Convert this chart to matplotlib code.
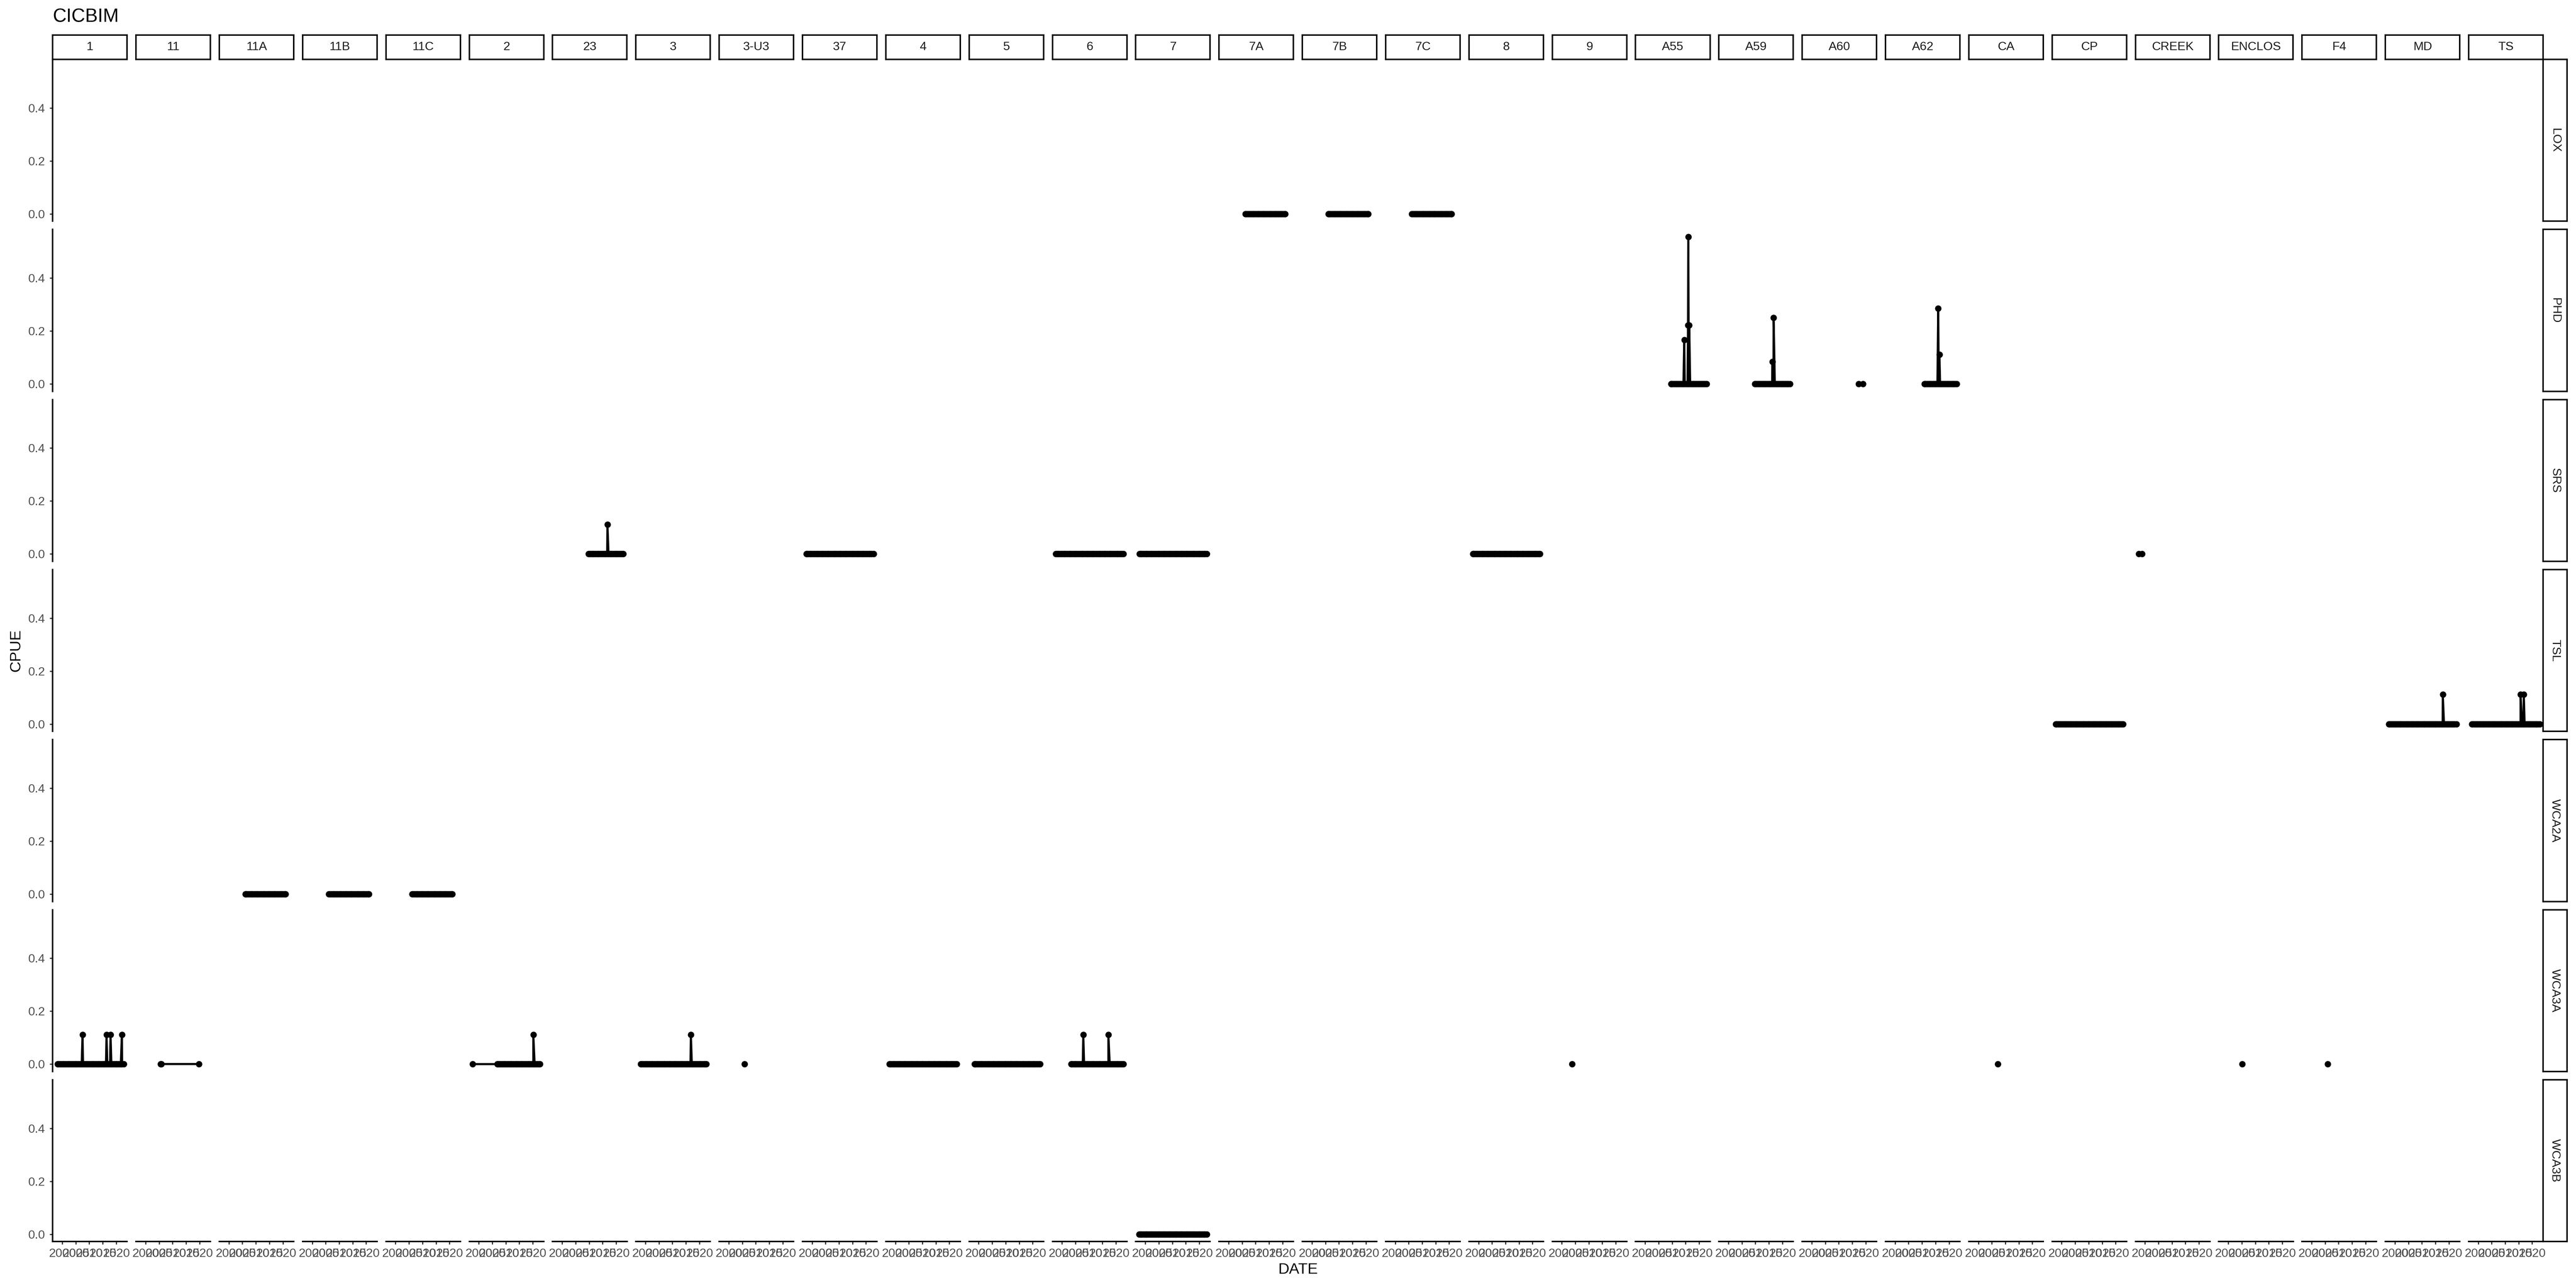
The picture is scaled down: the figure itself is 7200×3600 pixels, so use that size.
import matplotlib
matplotlib.use("Agg")
import matplotlib.pyplot as plt
import pandas as pd

plt.rcParams["font.family"] = ["Liberation Sans", "DejaVu Sans"]

# facet levels
SITES = ["1", "11", "11A", "11B", "11C", "2", "23", "3", "3-U3", "37", "4", "5",
         "6", "7", "7A", "7B", "7C", "8", "9", "A55", "A59", "A60", "A62", "CA",
         "CP", "CREEK", "ENCLOS", "F4", "MD", "TS"]
REGIONS = ["LOX", "PHD", "SRS", "TSL", "WCA2A", "WCA3A", "WCA3B"]

# sampling dates (decimal years) used between the first and last visit of a run
SURVEY_DATES = [1997.7, 1998.2, 1998.7, 1999.2, 1999.7, 2000.2, 2000.7, 2001.2,
                2001.7, 2002.2, 2002.7, 2003.2, 2003.7, 2004.2, 2004.7, 2005.2,
                2005.7, 2006.2, 2006.7, 2007.2, 2007.7, 2008.2, 2008.7, 2009.2,
                2009.7, 2010.2, 2010.7, 2011.2, 2011.7, 2012.2, 2012.7, 2013.2,
                2013.7, 2014.2, 2014.7, 2015.2, 2015.7, 2016.2, 2016.7, 2017.2,
                2017.7, 2018.2, 2018.7, 2019.2, 2019.7, 2020.2, 2020.7, 2021.2,
                2021.7, 2022.2, 2022.8]

# runs of zero-catch visits: region, site, first and last date
RUN_REGION = ["LOX", "LOX", "LOX", "PHD", "PHD", "PHD", "SRS", "SRS", "SRS",
              "SRS", "SRS", "TSL", "TSL", "TSL", "WCA2A", "WCA2A", "WCA2A",
              "WCA3A", "WCA3A", "WCA3A", "WCA3A", "WCA3A", "WCA3A", "WCA3B"]
RUN_SITE = ["7A", "7B", "7C", "A55", "A59", "A62", "23", "37", "6", "7", "8",
            "CP", "MD", "TS", "11A", "11B", "11C", "1", "2", "3", "4", "5", "6",
            "7"]
RUN_START = [2006.2, 2006.1, 2006.2, 2009.6, 2009.8, 2010.9, 2009.8, 1997.9,
             1997.7, 1997.8, 1998.0, 1997.8, 1997.8, 1997.7, 2006.1, 2006.2,
             2006.2, 1998.2, 2006.8, 1998.3, 1997.8, 1998.5, 2003.4, 1997.7]
RUN_END = [2020.9, 2020.8, 2020.9, 2022.8, 2022.8, 2022.8, 2022.7, 2022.8,
           2022.8, 2022.8, 2022.8, 2022.8, 2022.8, 2022.8, 2021.0, 2021.0,
           2021.0, 2022.8, 2022.6, 2022.5, 2022.7, 2022.8, 2022.8, 2022.8]

# isolated zero-catch visits
ZERO_REGION = ["PHD", "PHD", "SRS", "SRS", "WCA3A", "WCA3A", "WCA3A", "WCA3A",
               "WCA3A", "WCA3A", "WCA3A", "WCA3A", "WCA3A"]
ZERO_SITE = ["A60", "A60", "CREEK", "CREEK", "11", "11", "11", "2", "3-U3", "9",
             "CA", "ENCLOS", "F4"]
ZERO_DATE = [2017.4, 2019.0, 1997.7, 1998.9, 2005.6, 2005.9, 2019.8, 1997.7,
             2005.8, 2003.75, 2007.2, 2005.1, 2006.0]

# non-zero catches
CATCH_REGION = ["PHD", "PHD", "PHD", "PHD", "PHD", "PHD", "PHD", "PHD", "SRS",
                "TSL", "TSL", "TSL", "WCA3A", "WCA3A", "WCA3A", "WCA3A",
                "WCA3A", "WCA3A", "WCA3A", "WCA3A"]
CATCH_SITE = ["A55", "A55", "A55", "A55", "A59", "A59", "A62", "A62", "23", "MD",
              "TS", "TS", "1", "1", "1", "1", "2", "3", "6", "6"]
CATCH_DATE = [2014.5, 2015.9, 2016.0, 2016.35, 2016.25, 2016.75, 2016.0, 2016.45,
              2016.8, 2017.75, 2015.7, 2016.9, 2007.5, 2016.4, 2017.9, 2022.1,
              2020.2, 2016.85, 2007.9, 2017.2]
CATCH_CPUE = [0.1667, 0.2222, 0.5556, 0.2222, 0.0833, 0.25, 0.2857, 0.1111,
              0.1111, 0.1111, 0.1111, 0.1111, 0.1111, 0.1111, 0.1111, 0.1111,
              0.1111, 0.1111, 0.1111, 0.1111]

X_TICKS = [2000, 2005, 2010, 2015, 2020]
X_LABELS = ["2000", "2005", "2010", "2015", "2020"]
Y_TICKS = [0.0, 0.2, 0.4]
Y_LABELS = ["0.0", "0.2", "0.4"]

# assemble table
rows = []
for reg, site, d0, d1 in zip(RUN_REGION, RUN_SITE, RUN_START, RUN_END):
    dates = [d0] + [d for d in SURVEY_DATES if d0 < d < d1] + [d1]
    for d in dates:
        rows.append((reg, site, d, 0.0))
for reg, site, d in zip(ZERO_REGION, ZERO_SITE, ZERO_DATE):
    rows.append((reg, site, d, 0.0))
for reg, site, d, v in zip(CATCH_REGION, CATCH_SITE, CATCH_DATE, CATCH_CPUE):
    rows.append((reg, site, d, v))
df = pd.DataFrame(rows, columns=["REGION", "SITE", "DATE", "CPUE"])
df = df.sort_values(["REGION", "SITE", "DATE"])

# shared scales with ggplot-like 5% expansion
xmin, xmax = df["DATE"].min(), df["DATE"].max()
xpad = (xmax - xmin) * 0.05
ymin, ymax = 0.0, df["CPUE"].max()
ypad = (ymax - ymin) * 0.05

W, H = 7200, 3600
fig = plt.figure(figsize=(24, 12), dpi=300)

left0, pw, pstep = 147.3, 208.1, 232.85
top0, ph, vstep = 166.0, 452.3, 475.3
strip_h, strip_w = 68.0, 67.0

tick_col = "#333333"
lab_col = "#4D4D4D"

for r, reg in enumerate(REGIONS):
    for c, site in enumerate(SITES):
        x = left0 + c * pstep
        y = top0 + r * vstep
        ax = fig.add_axes([x / W, 1 - (y + ph) / H, pw / W, ph / H])
        sub = df[(df["REGION"] == reg) & (df["SITE"] == site)]
        if len(sub):
            ax.plot(sub["DATE"], sub["CPUE"], color="black", lw=1.4, zorder=2)
            ax.plot(sub["DATE"], sub["CPUE"], "o", color="black", ms=4.3,
                    mew=0, zorder=3)
        ax.set_xlim(xmin - xpad, xmax + xpad)
        ax.set_ylim(ymin - ypad, ymax + ypad)
        for s in ax.spines.values():
            s.set_visible(False)
        ax.set_xticks(X_TICKS)
        ax.set_yticks(Y_TICKS)
        if c == 0:
            ax.spines["left"].set_visible(True)
            ax.spines["left"].set_linewidth(1.0)
            ax.set_yticklabels(Y_LABELS)
            ax.tick_params(axis="y", length=2.0, width=0.8, color=tick_col,
                           labelsize=8.2, labelcolor=lab_col, pad=3)
        else:
            ax.tick_params(axis="y", length=0, labelleft=False)
        if r == len(REGIONS) - 1:
            ax.spines["bottom"].set_visible(True)
            ax.spines["bottom"].set_linewidth(1.0)
            ax.set_xticklabels(X_LABELS)
            ax.tick_params(axis="x", length=2.0, width=0.8, color=tick_col,
                           labelsize=8.2, labelcolor=lab_col, pad=2.5)
        else:
            ax.tick_params(axis="x", length=0, labelbottom=False)

        # column strips on top
        if r == 0:
            sax = fig.add_axes([x / W, 1 - y / H, pw / W, strip_h / H])
            sax.set_xticks([])
            sax.set_yticks([])
            for s in sax.spines.values():
                s.set_linewidth(1.0)
            sax.text(0.5, 0.5, site, ha="center", va="center", fontsize=8.2,
                     color="#1A1A1A", transform=sax.transAxes)
        # row strips on the right
        if c == len(SITES) - 1:
            rax = fig.add_axes([(x + pw) / W, 1 - (y + ph) / H, strip_w / W, ph / H])
            rax.set_xticks([])
            rax.set_yticks([])
            for s in rax.spines.values():
                s.set_linewidth(1.0)
            rax.text(0.5, 0.5, reg, ha="center", va="center", fontsize=8.2,
                     rotation=-90, color="#1A1A1A", transform=rax.transAxes)

fig.text(left0 / W, 1 - 62 / H, "CICBIM", ha="left", va="baseline", fontsize=12.7)
fig.text(45 / W, 1 - (top0 + 3304 / 2) / H, "CPUE", ha="center", va="center",
         rotation=90, fontsize=10.3)
fig.text((left0 + 7108) / 2 / W, 1 - 3549 / H, "DATE", ha="center", va="center",
         fontsize=10.3)

fig.savefig("out.png", dpi=300, facecolor="white")
